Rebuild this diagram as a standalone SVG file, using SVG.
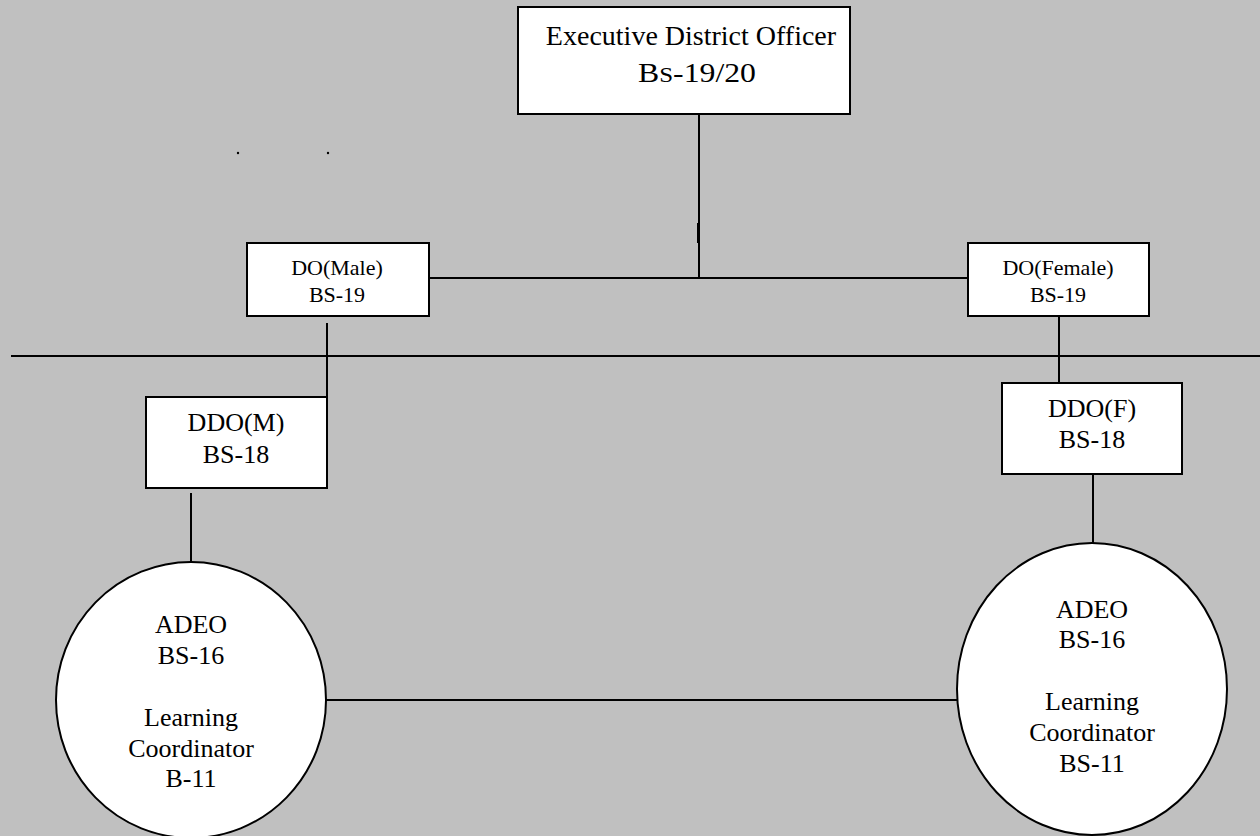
<svg xmlns="http://www.w3.org/2000/svg" width="1260" height="836" viewBox="0 0 1260 836">
<style>
.box{fill:#fff;stroke:#000;stroke-width:2}
.ln{stroke:#000;stroke-width:2;fill:none}
text{font-family:"Liberation Serif","Times New Roman",serif;fill:#000;text-anchor:middle}
.s22{font-size:22px}
.s26{font-size:26px}
.s28{font-size:28px}
.start{text-anchor:start}
</style>
<rect x="0" y="0" width="1260" height="836" fill="#c0c0c0"/>
<g id="connectors">
<line class="ln" x1="699" y1="114" x2="699" y2="278"/>
<line x1="698.5" y1="223" x2="698.5" y2="243" stroke="#000" stroke-width="3"/>
<line class="ln" x1="430" y1="278" x2="968" y2="278"/>
<line class="ln" x1="11" y1="356" x2="1260" y2="356"/>
<line class="ln" x1="327" y1="323" x2="327" y2="397"/>
<line class="ln" x1="1059" y1="316" x2="1059" y2="383"/>
<line class="ln" x1="191" y1="493" x2="191" y2="567"/>
<line class="ln" x1="1093" y1="474" x2="1093" y2="543"/>
<line class="ln" x1="326" y1="700" x2="958" y2="700"/>
</g>
<g id="dots">
<circle cx="238" cy="153" r="1.2" fill="#000"/>
<circle cx="328" cy="153" r="1.2" fill="#000"/>
</g>
<g id="edo">
<rect class="box" x="518" y="7" width="332" height="107"/>
<text class="s28" x="691" y="45">Executive District Officer</text>
<text class="s28 start" x="638" y="82" textLength="118" lengthAdjust="spacingAndGlyphs">B<tspan font-size="22">S</tspan>-19/20</text>
</g>
<g id="do-male">
<rect class="box" x="247" y="243" width="182" height="73"/>
<text class="s22" x="337" y="275">DO(Male)</text>
<text class="s22" x="337" y="302">BS-19</text>
</g>
<g id="do-female">
<rect class="box" x="968" y="243" width="181" height="73"/>
<text class="s22" x="1058" y="275">DO(Female)</text>
<text class="s22" x="1058" y="302">BS-19</text>
</g>
<g id="ddo-m">
<rect class="box" x="146" y="397" width="181" height="91"/>
<text class="s26" x="236" y="431">DDO(M)</text>
<text class="s26" x="236" y="463">BS-18</text>
</g>
<g id="ddo-f">
<rect class="box" x="1002" y="383" width="180" height="91"/>
<text class="s26" x="1092" y="417">DDO(F)</text>
<text class="s26" x="1092" y="448">BS-18</text>
</g>
<g id="adeo-left">
<ellipse class="box" cx="191" cy="700" rx="135" ry="138"/>
<text class="s26" x="191" y="633">ADEO</text>
<text class="s26" x="191" y="664">BS-16</text>
<text class="s26" x="191" y="726">Learning</text>
<text class="s26" x="191" y="757">Coordinator</text>
<text class="s26" x="191" y="787">B-11</text>
</g>
<g id="adeo-right">
<ellipse class="box" cx="1092" cy="689" rx="135" ry="146"/>
<text class="s26" x="1092" y="618">ADEO</text>
<text class="s26" x="1092" y="648">BS-16</text>
<text class="s26" x="1092" y="710">Learning</text>
<text class="s26" x="1092" y="741">Coordinator</text>
<text class="s26" x="1092" y="772">BS-11</text>
</g>
</svg>
